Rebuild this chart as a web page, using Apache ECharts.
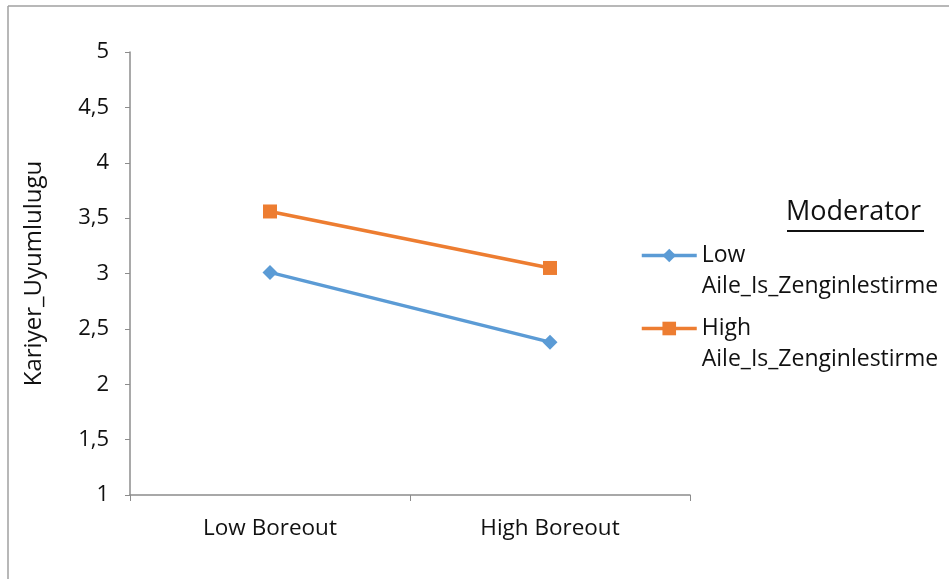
<!DOCTYPE html>
<html><head><meta charset="utf-8">
<script src="https://cdn.jsdelivr.net/npm/echarts@6/dist/echarts.min.js"></script>
<style>html,body{margin:0;padding:0;background:#fff}#c{width:949px;height:579px}</style>
</head><body><div id="c"></div>
<script>
const categories = ['Low Boreout', 'High Boreout'];
const lowSeries = [3.01, 2.38];
const highSeries = [3.56, 3.05];
const seriesNames = ['Low\nAile_Is_Zenginlestirme', 'High\nAile_Is_Zenginlestirme'];
const yAxisName = 'Kariyer_Uyumlulugu';
const legendTitle = 'Moderator';
const yMin = 1, yMax = 5, yStep = 0.5;

const FONT = 'Open Sans';
const chart = echarts.init(document.getElementById('c'));
chart.setOption({
  animation: false,
  backgroundColor: '#fff',
  grid: { left: 130, right: 259, top: 52, bottom: 84 },
  xAxis: {
    type: 'category', data: categories, boundaryGap: true,
    axisLine: { lineStyle: { color: '#8c8c8c', width: 1.5 } },
    axisTick: { show: true, length: 6, lineStyle: { color: '#8c8c8c' } },
    axisLabel: { color: '#111', fontSize: 22.5, fontFamily: FONT, margin: 22 }
  },
  yAxis: {
    type: 'value', min: yMin, max: yMax, interval: yStep,
    name: yAxisName, nameLocation: 'middle', nameGap: 84, nameRotate: 90,
    nameTextStyle: { color: '#111', fontSize: 24, fontFamily: FONT },
    axisLine: { show: true, lineStyle: { color: '#8c8c8c', width: 1.5 } },
    axisTick: { show: true, length: 5, lineStyle: { color: '#8c8c8c' } },
    splitLine: { show: false },
    axisLabel: { color: '#111', fontSize: 22, fontFamily: FONT, margin: 21,
      formatter: v => String(v).replace('.', ',') }
  },
  legend: {
    orient: 'vertical', left: 640, top: 209, padding: 0,
    itemWidth: 55, itemHeight: 17, itemGap: -20, itemTextGap: 0,
    data: seriesNames,
    formatter: name => ' \n' + name,
    lineStyle: { width: 3.5 },
    textStyle: { color: '#111', fontSize: 23, fontFamily: FONT, lineHeight: 31 }
  },
  graphic: [
    { type: 'line', shape: { x1: 8, y1: 6, x2: 949, y2: 6 }, style: { stroke: '#a0a0a0', lineWidth: 1.5 }, silent: true },
    { type: 'line', shape: { x1: 8, y1: 6, x2: 8, y2: 579 }, style: { stroke: '#a0a0a0', lineWidth: 1.5 }, silent: true },
    { type: 'text', left: 786, top: 199, style: { text: legendTitle, fontSize: 27, fontFamily: FONT, fill: '#111' } },
    { type: 'line', shape: { x1: 787, y1: 231, x2: 924, y2: 231 }, style: { stroke: '#111', lineWidth: 2 } }
  ],
  series: [
    { name: seriesNames[0], type: 'line', data: lowSeries, symbol: 'diamond', symbolSize: 15,
      color: '#5B9BD5', lineStyle: { width: 3.5 }, itemStyle: { color: '#5B9BD5' } },
    { name: seriesNames[1], type: 'line', data: highSeries, symbol: 'rect', symbolSize: 14,
      color: '#ED7D31', lineStyle: { width: 3.5 }, itemStyle: { color: '#ED7D31' } }
  ]
});
</script></body></html>
